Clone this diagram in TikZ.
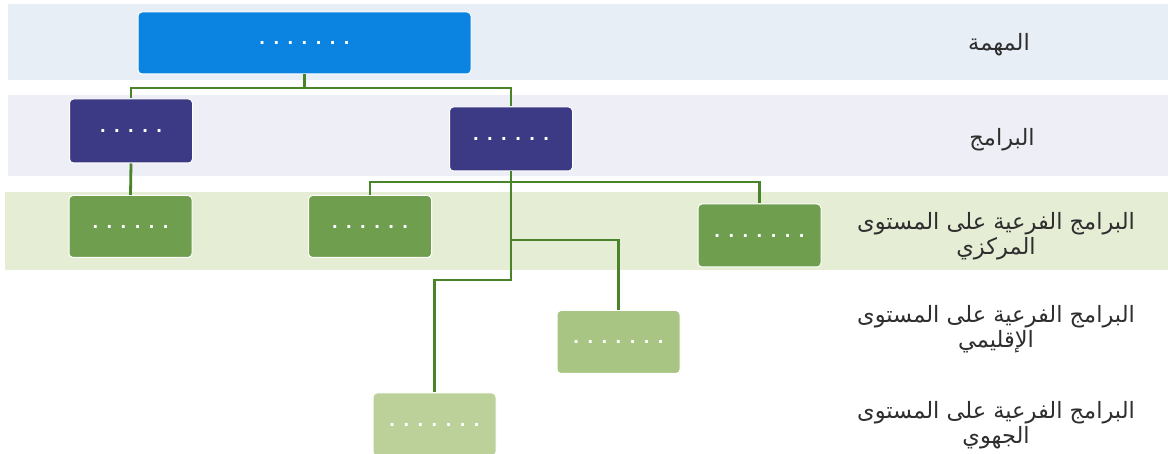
\documentclass[tikz,border=0pt]{standalone}
\usepackage{fontspec}
\TeXXeTstate=1
\newfontfamily\arabicfont[Script=Arabic]{DejaVu Sans}
\newfontfamily\dotfont[LetterSpace=50]{DejaVu Sans Bold}
\definecolor{bandA}{HTML}{E8EEF6}
\definecolor{bandB}{HTML}{EEEEF6}
\definecolor{bandC}{HTML}{E6EDD5}
\definecolor{topc}{HTML}{0A84E0}
\definecolor{progc}{HTML}{3C3A84}
\definecolor{cenc}{HTML}{6E9E4E}
\definecolor{regc}{HTML}{A9C584}
\definecolor{locc}{HTML}{BCD09A}
\definecolor{linec}{HTML}{4A842A}
\definecolor{txtc}{HTML}{2E2E2E}
\tikzset{
  box/.style={rounded corners=4pt, draw=white, line width=1pt, minimum width=#1, text=white, font=\dotfont\fontsize{16}{16}\selectfont, inner sep=0pt},
  box/.default=123pt,
  conn/.style={draw=linec, line width=2.8pt},
  lbl/.style={text=txtc, font=\arabicfont\fontsize{22.5}{25}\selectfont, align=center}
}
\begin{document}
\begin{tikzpicture}[x=1pt,y=-1pt]
\useasboundingbox (0,0) rectangle (1168,454);
% bands
\fill[bandA] (8,4) rectangle (1168,80);
\fill[bandB] (8,95) rectangle (1168,176);
\fill[bandC] (5,192) rectangle (1168,270);
% nodes
\node[box=333pt, minimum height=62pt, fill=topc] (top) at (304.5,43) {.......};
\node[box, minimum height=64pt, fill=progc] (p1) at (131,131) {.....};
\node[box, minimum height=64pt, fill=progc] (p2) at (511,139) {......};
\node[box, minimum height=62pt, fill=cenc] (g1) at (130.5,226.5) {......};
\node[box, minimum height=62pt, fill=cenc] (g2) at (370,226.5) {......};
\node[box, minimum height=63pt, fill=cenc] (g3) at (759.5,235.5) {.......};
\node[box, minimum height=63pt, fill=regc] (r) at (618.5,342) {.......};
\node[box, minimum height=63pt, fill=locc] (l) at (434.5,424.5) {.......};
% connectors
\coordinate (j1) at (304.5,88);
\coordinate (j2) at (511,182);
\coordinate (j3) at (511,240);
\coordinate (j4) at (511,280);
\draw[conn] (top.south) -- (j1) -| (p1.north);
\draw[conn] (j1) -| (p2.north);
\draw[conn] (p1.south) -- (g1.north);
\draw[conn] (p2.south) -- (j2) -| (g2.north);
\draw[conn] (j2) -| (g3.north);
\draw[conn] (j2) -- (j4) -| (l.north);
\draw[conn] (j3) -| (r.north);
% labels
\node[lbl] (t1) at (999,45) {\beginR المهمة\endR};
\node[lbl] (t2) at (1002,140) {\beginR البرامج\endR};
\node[lbl] (t3) at (996,236) {\beginR البرامج الفرعية على المستوى\endR\\ \beginR المركزي\endR};
\node[lbl] (t4) at (996,329) {\beginR البرامج الفرعية على المستوى\endR\\ \beginR الإقليمي\endR};
\node[lbl] (t5) at (996,425) {\beginR البرامج الفرعية على المستوى\endR\\ \beginR الجهوي\endR};
\end{tikzpicture}
\end{document}
